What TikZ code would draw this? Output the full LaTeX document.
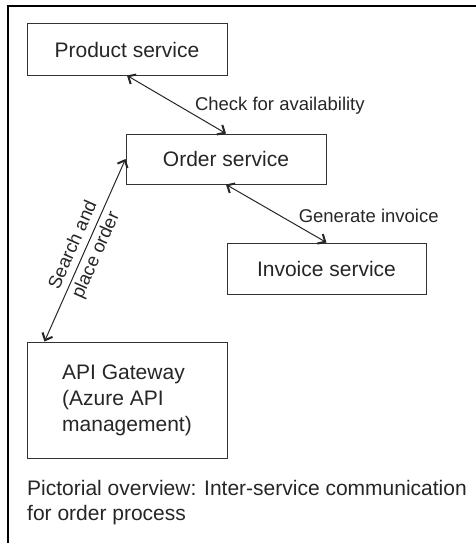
\documentclass[tikz,border=0pt]{standalone}
\usepackage{fontspec}
\setmainfont{Liberation Sans}
\usetikzlibrary{arrows.meta,calc}
\begin{document}
\begin{tikzpicture}[x=1pt,y=-1pt,
  box/.style={draw=black!80, line width=1pt, minimum width=200pt, inner sep=0pt,
    font=\fontsize{21}{26}\selectfont, text=black!85},
  lbl/.style={font=\fontsize{18.5}{22}\selectfont, text=black!85, inner sep=0pt},
  tipend/.tip={Straight Barb[length=6pt,width=11pt,line width=2pt]},
  conn/.style={line width=1pt, draw=black!85, tipend-tipend}]
\useasboundingbox (0,0) rectangle (476,543);
\draw[line width=2pt] (8,543) -- (8,6) -- (476,6);

\node[box, minimum height=51pt] (prod) at (127,49.5) {Product service};
\node[box, minimum height=50pt] (order) at (226,159) {Order service};
\node[box, minimum width=199pt, minimum height=51pt] (inv) at (326.5,268.5) {Invoice service};
\node[box, minimum height=116pt, align=left] (api) at (127,400) {API Gateway\\(Azure API\\management)};
\coordinate (apitop) at ($(api.north west)+(18,0)$);

\draw[conn] (prod.south) -- node[lbl, pos=0.5, anchor=base west, xshift=18pt, yshift=-5.5pt] (l1) {Check for availability} (order.north);
\draw[conn] (order.south) -- node[lbl, pos=0.5, anchor=base west, xshift=22pt, yshift=-8.5pt] (l2) {Generate invoice} (inv.north);
\draw[conn] (apitop) -- node[font=\fontsize{18.5}{25}\selectfont, text=black!85, inner sep=0pt, sloped, align=center, midway] (l3) {Search and\\place order} (order.west);

\node[font=\fontsize{21}{25}\selectfont, text=black!85, align=left, anchor=north west, inner sep=0pt] (cap) at (27,480) {Pictorial overview: Inter-service communication\\for order process};
\end{tikzpicture}
\end{document}
